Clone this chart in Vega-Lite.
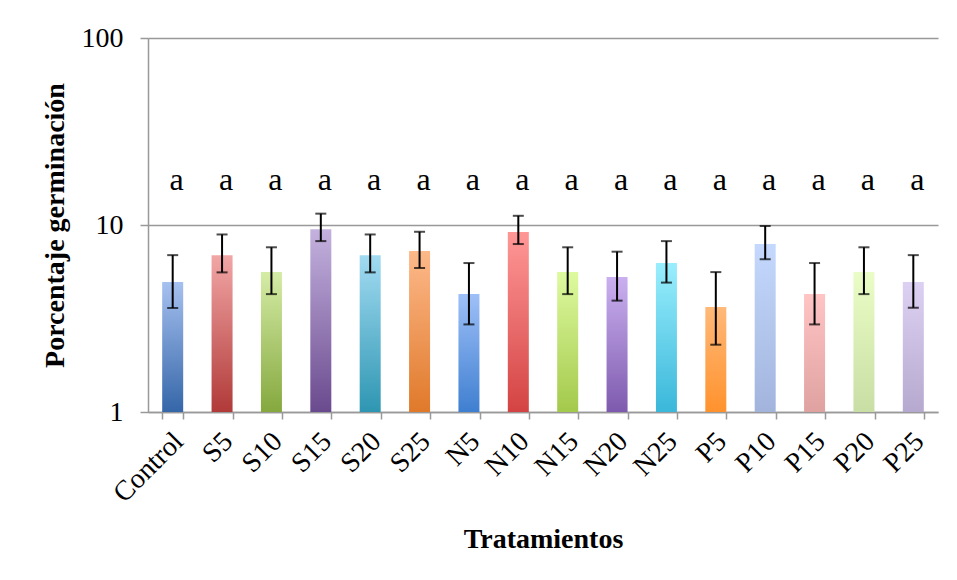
{
  "$schema": "https://vega.github.io/schema/vega-lite/v6.json",
  "autosize": {"type": "none"},
  "width": 790,
  "height": 374,
  "padding": {"left": 148, "top": 38, "right": 19, "bottom": 168},
  "background": "white",
  "config": {
    "view": {"stroke": null},
    "font": "Liberation Serif",
    "bar": {"width": 21}
  },
  "data": {
    "values": [
      {"t": "Control", "v": 4.96, "lo": 3.6, "hi": 6.9, "g": "a"},
      {"t": "S5", "v": 6.9, "lo": 5.58, "hi": 8.9, "g": "a"},
      {"t": "S10", "v": 5.6, "lo": 4.27, "hi": 7.6, "g": "a"},
      {"t": "S15", "v": 9.5, "lo": 8.2, "hi": 11.5, "g": "a"},
      {"t": "S20", "v": 6.9, "lo": 5.58, "hi": 8.9, "g": "a"},
      {"t": "S25", "v": 7.26, "lo": 5.89, "hi": 9.2, "g": "a"},
      {"t": "N5", "v": 4.27, "lo": 2.94, "hi": 6.26, "g": "a"},
      {"t": "N10", "v": 9.18, "lo": 7.91, "hi": 11.2, "g": "a"},
      {"t": "N15", "v": 5.6, "lo": 4.27, "hi": 7.6, "g": "a"},
      {"t": "N20", "v": 5.27, "lo": 3.94, "hi": 7.2, "g": "a"},
      {"t": "N25", "v": 6.26, "lo": 4.92, "hi": 8.2, "g": "a"},
      {"t": "P5", "v": 3.64, "lo": 2.29, "hi": 5.6, "g": "a"},
      {"t": "P10", "v": 7.91, "lo": 6.56, "hi": 9.88, "g": "a"},
      {"t": "P15", "v": 4.27, "lo": 2.94, "hi": 6.26, "g": "a"},
      {"t": "P20", "v": 5.6, "lo": 4.27, "hi": 7.6, "g": "a"},
      {"t": "P25", "v": 4.96, "lo": 3.61, "hi": 6.9, "g": "a"}
    ]
  },
  "encoding": {
    "x": {
      "field": "t",
      "type": "nominal",
      "scale": {
        "domain": ["Control","S5","S10","S15","S20","S25","N5","N10","N15","N20","N25","P5","P10","P15","P20","P25"],
        "paddingInner": 0.57, "paddingOuter": 0.285
      },
      "axis": {
        "title": "Tratamientos",
        "titleFont": "Liberation Serif",
        "titleFontSize": 28,
        "titleFontWeight": "bold",
        "titleColor": "black",
        "titlePadding": 18,
        "labelAngle": -45,
        "labelAlign": "right",
        "labelBaseline": "middle",
        "labelFont": "Liberation Serif",
        "labelFontSize": 28,
        "labelColor": "black",
        "labelPadding": 18,
        "labelOffset": 6,
        "tickBand": "extent",
        "tickSize": 7,
        "tickColor": "#999999",
        "domainColor": "#999999",
        "domainWidth": 1.5,
        "tickWidth": 1.5,
        "grid": false
      }
    }
  },
  "layer": [
    {
      "encoding": {
        "y": {
          "field": "v",
          "type": "quantitative",
          "scale": {"type": "log", "domain": [1, 100], "nice": false},
          "axis": {
            "title": "Porcentaje germinación",
            "titleFont": "Liberation Serif",
            "titleFontSize": 28,
            "titleFontWeight": "bold",
            "titleColor": "black",
            "titlePadding": 12,
            "values": [1, 10, 100],
            "format": "d",
            "labelFont": "Liberation Serif",
            "labelFontSize": 28,
            "labelColor": "black",
            "labelPadding": 17,
            "tickSize": 8,
            "tickColor": "#999999",
            "tickWidth": 1.5,
            "domainColor": "#999999",
            "domainWidth": 1.5,
            "grid": true,
            "gridColor": "#999999",
            "gridWidth": 1.5
          }
        },
        "y2": {"datum": 1}
      },
      "layer": [
        {"transform": [{"filter": "datum.t == 'Control'"}], "mark": {"type": "bar", "color": {"gradient": "linear", "x1": 0, "y1": 0, "x2": 0, "y2": 1, "stops": [{"offset": 0, "color": "#a6c1f0"}, {"offset": 1, "color": "#3566a8"}]}}},
        {"transform": [{"filter": "datum.t == 'S5'"}], "mark": {"type": "bar", "color": {"gradient": "linear", "x1": 0, "y1": 0, "x2": 0, "y2": 1, "stops": [{"offset": 0, "color": "#f2a6a6"}, {"offset": 1, "color": "#b03a38"}]}}},
        {"transform": [{"filter": "datum.t == 'S10'"}], "mark": {"type": "bar", "color": {"gradient": "linear", "x1": 0, "y1": 0, "x2": 0, "y2": 1, "stops": [{"offset": 0, "color": "#d5eca6"}, {"offset": 1, "color": "#85a83e"}]}}},
        {"transform": [{"filter": "datum.t == 'S15'"}], "mark": {"type": "bar", "color": {"gradient": "linear", "x1": 0, "y1": 0, "x2": 0, "y2": 1, "stops": [{"offset": 0, "color": "#c4b2de"}, {"offset": 1, "color": "#6a4a8e"}]}}},
        {"transform": [{"filter": "datum.t == 'S20'"}], "mark": {"type": "bar", "color": {"gradient": "linear", "x1": 0, "y1": 0, "x2": 0, "y2": 1, "stops": [{"offset": 0, "color": "#a2dbf2"}, {"offset": 1, "color": "#2e96b2"}]}}},
        {"transform": [{"filter": "datum.t == 'S25'"}], "mark": {"type": "bar", "color": {"gradient": "linear", "x1": 0, "y1": 0, "x2": 0, "y2": 1, "stops": [{"offset": 0, "color": "#fdb98a"}, {"offset": 1, "color": "#e0792a"}]}}},
        {"transform": [{"filter": "datum.t == 'N5'"}], "mark": {"type": "bar", "color": {"gradient": "linear", "x1": 0, "y1": 0, "x2": 0, "y2": 1, "stops": [{"offset": 0, "color": "#9ec0f8"}, {"offset": 1, "color": "#3f7fd0"}]}}},
        {"transform": [{"filter": "datum.t == 'N10'"}], "mark": {"type": "bar", "color": {"gradient": "linear", "x1": 0, "y1": 0, "x2": 0, "y2": 1, "stops": [{"offset": 0, "color": "#ff9797"}, {"offset": 1, "color": "#d44343"}]}}},
        {"transform": [{"filter": "datum.t == 'N15'"}], "mark": {"type": "bar", "color": {"gradient": "linear", "x1": 0, "y1": 0, "x2": 0, "y2": 1, "stops": [{"offset": 0, "color": "#defaa0"}, {"offset": 1, "color": "#a3c94b"}]}}},
        {"transform": [{"filter": "datum.t == 'N20'"}], "mark": {"type": "bar", "color": {"gradient": "linear", "x1": 0, "y1": 0, "x2": 0, "y2": 1, "stops": [{"offset": 0, "color": "#cab0f0"}, {"offset": 1, "color": "#7e5aae"}]}}},
        {"transform": [{"filter": "datum.t == 'N25'"}], "mark": {"type": "bar", "color": {"gradient": "linear", "x1": 0, "y1": 0, "x2": 0, "y2": 1, "stops": [{"offset": 0, "color": "#99eefd"}, {"offset": 1, "color": "#3ab7da"}]}}},
        {"transform": [{"filter": "datum.t == 'P5'"}], "mark": {"type": "bar", "color": {"gradient": "linear", "x1": 0, "y1": 0, "x2": 0, "y2": 1, "stops": [{"offset": 0, "color": "#ffb979"}, {"offset": 1, "color": "#ff922d"}]}}},
        {"transform": [{"filter": "datum.t == 'P10'"}], "mark": {"type": "bar", "color": {"gradient": "linear", "x1": 0, "y1": 0, "x2": 0, "y2": 1, "stops": [{"offset": 0, "color": "#c4d9fd"}, {"offset": 1, "color": "#a2b4dc"}]}}},
        {"transform": [{"filter": "datum.t == 'P15'"}], "mark": {"type": "bar", "color": {"gradient": "linear", "x1": 0, "y1": 0, "x2": 0, "y2": 1, "stops": [{"offset": 0, "color": "#ffc4c4"}, {"offset": 1, "color": "#dfa2a1"}]}}},
        {"transform": [{"filter": "datum.t == 'P20'"}], "mark": {"type": "bar", "color": {"gradient": "linear", "x1": 0, "y1": 0, "x2": 0, "y2": 1, "stops": [{"offset": 0, "color": "#eafdc6"}, {"offset": 1, "color": "#c8dea4"}]}}},
        {"transform": [{"filter": "datum.t == 'P25'"}], "mark": {"type": "bar", "color": {"gradient": "linear", "x1": 0, "y1": 0, "x2": 0, "y2": 1, "stops": [{"offset": 0, "color": "#ddd1f3"}, {"offset": 1, "color": "#b6a9cf"}]}}}
      ]
    },
    {
      "mark": {"type": "rule", "color": "black", "strokeWidth": 2},
      "encoding": {
        "y": {"field": "lo", "type": "quantitative"},
        "y2": {"field": "hi"}
      }
    },
    {
      "mark": {"type": "tick", "orient": "horizontal", "color": "black", "size": 11, "thickness": 2},
      "encoding": {"y": {"field": "lo", "type": "quantitative"}}
    },
    {
      "mark": {"type": "tick", "orient": "horizontal", "color": "black", "size": 11, "thickness": 2},
      "encoding": {"y": {"field": "hi", "type": "quantitative"}}
    },
    {
      "mark": {"type": "text", "font": "Liberation Serif", "fontSize": 32, "color": "black", "baseline": "middle", "dx": 4},
      "encoding": {
        "y": {"datum": 17.5},
        "text": {"field": "g"}
      }
    }
  ]
}
